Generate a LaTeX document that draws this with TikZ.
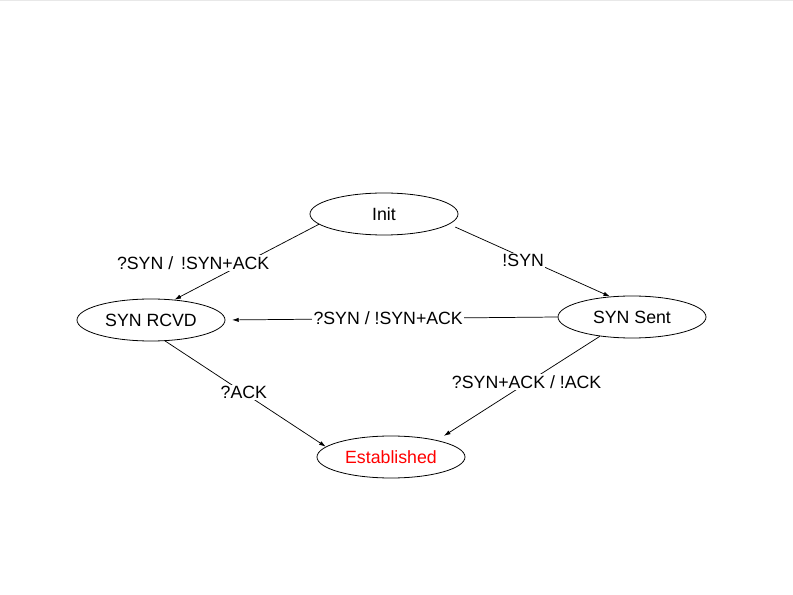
\documentclass[tikz,border=0pt]{standalone}
\usepackage{fontspec}
\setmainfont{Liberation Sans}
\usetikzlibrary{shapes.geometric,arrows.meta}
\tikzset{
  state/.style={draw,ellipse,line width=0.6pt,minimum width=111pt,minimum height=31.5pt,inner sep=0pt,font=\fontsize{13.3}{16}\selectfont},
  lbl/.style={fill=white,inner sep=1pt,font=\fontsize{13.3}{16}\selectfont},
  trans/.style={-{Latex[length=5pt,width=3.2pt]},line width=0.55pt},
}
\begin{document}
\begin{tikzpicture}[x=0.75pt,y=-0.75pt]
%%
  \useasboundingbox (0,0) rectangle (793,595);
  \fill[black!9] (0,0) rectangle (793,1.5);
%
  \node (init) at (384,214) [state] {Init};
  \node (synrcvd) at (151,320) [state] {SYN RCVD};
  \node (synsent) at (632,317) [state] {SYN Sent};
  \node (estab) at (391,457) [state,text=red] {Established};

  \draw [trans] (init.189) -- (synrcvd.41) node [lbl,pos=0.51,xshift=-39pt] {?SYN /\, !SYN+ACK};
  \draw [trans,shorten <=5pt] (init.351) -- (synsent.137) node [lbl,pos=0.46,yshift=-2pt] {!SYN};
  \draw [trans,shorten >=5pt] (synsent.180) -- (synrcvd.0) node [lbl,pos=0.51] {?SYN / !SYN+ACK};
  \draw [trans] (synrcvd.304) -- (estab.171) node [lbl,pos=0.49] {?ACK};
  \draw [trans,shorten >=6pt] (synsent.211) -- (estab.20) node [lbl,pos=0.45,yshift=1pt] {?SYN+ACK / !ACK};
%
\end{tikzpicture}
\end{document}
